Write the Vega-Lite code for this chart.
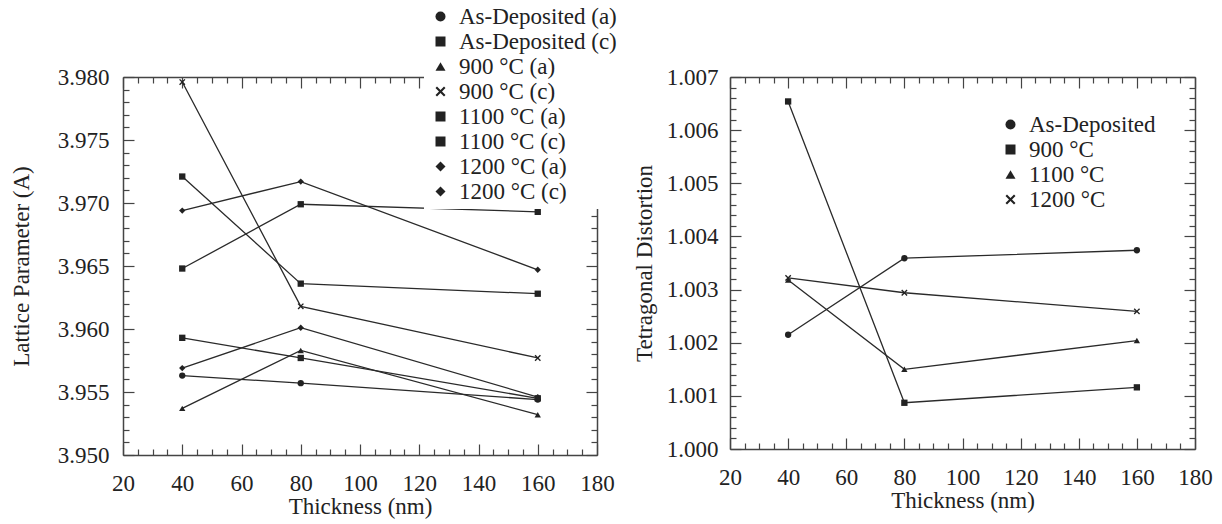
{
  "$schema": "https://vega.github.io/schema/vega-lite/v6.json",
  "background": "white",
  "padding": {"left": 10, "top": 0, "right": 5, "bottom": 5},
  "bounds": "flush",
  "spacing": 133,
  "datasets": {
    "lattice": [
      {"thickness": 40, "value": 3.9563, "series": "As-Deposited (a)"},
      {"thickness": 80, "value": 3.9557, "series": "As-Deposited (a)"},
      {"thickness": 160, "value": 3.9544, "series": "As-Deposited (a)"},
      {"thickness": 40, "value": 3.9648, "series": "As-Deposited (c)"},
      {"thickness": 80, "value": 3.9699, "series": "As-Deposited (c)"},
      {"thickness": 160, "value": 3.9693, "series": "As-Deposited (c)"},
      {"thickness": 40, "value": 3.9537, "series": "900 °C (a)"},
      {"thickness": 80, "value": 3.9583, "series": "900 °C (a)"},
      {"thickness": 160, "value": 3.9532, "series": "900 °C (a)"},
      {"thickness": 40, "value": 3.9796, "series": "900 °C (c)"},
      {"thickness": 80, "value": 3.9618, "series": "900 °C (c)"},
      {"thickness": 160, "value": 3.9577, "series": "900 °C (c)"},
      {"thickness": 40, "value": 3.9593, "series": "1100 °C (a)"},
      {"thickness": 80, "value": 3.9577, "series": "1100 °C (a)"},
      {"thickness": 160, "value": 3.9545, "series": "1100 °C (a)"},
      {"thickness": 40, "value": 3.9721, "series": "1100 °C (c)"},
      {"thickness": 80, "value": 3.9636, "series": "1100 °C (c)"},
      {"thickness": 160, "value": 3.9628, "series": "1100 °C (c)"},
      {"thickness": 40, "value": 3.9569, "series": "1200 °C (a)"},
      {"thickness": 80, "value": 3.9601, "series": "1200 °C (a)"},
      {"thickness": 160, "value": 3.9546, "series": "1200 °C (a)"},
      {"thickness": 40, "value": 3.9694, "series": "1200 °C (c)"},
      {"thickness": 80, "value": 3.9717, "series": "1200 °C (c)"},
      {"thickness": 160, "value": 3.9647, "series": "1200 °C (c)"}
    ],
    "tetra": [
      {"thickness": 40, "value": 1.00215, "series": "As-Deposited"},
      {"thickness": 80, "value": 1.00359, "series": "As-Deposited"},
      {"thickness": 160, "value": 1.00374, "series": "As-Deposited"},
      {"thickness": 40, "value": 1.00654, "series": "900 °C"},
      {"thickness": 80, "value": 1.00087, "series": "900 °C"},
      {"thickness": 160, "value": 1.00116, "series": "900 °C"},
      {"thickness": 40, "value": 1.00318, "series": "1100 °C"},
      {"thickness": 80, "value": 1.0015, "series": "1100 °C"},
      {"thickness": 160, "value": 1.00204, "series": "1100 °C"},
      {"thickness": 40, "value": 1.00322, "series": "1200 °C"},
      {"thickness": 80, "value": 1.00294, "series": "1200 °C"},
      {"thickness": 160, "value": 1.00259, "series": "1200 °C"}
    ]
  },
  "config": {
    "font": "Liberation Serif",
    "view": {"stroke": null},
    "axis": {
      "grid": false,
      "labelFont": "Liberation Serif",
      "labelFontSize": 23,
      "labelColor": "#222",
      "titleFont": "Liberation Serif",
      "titleFontSize": 23,
      "titleFontWeight": "normal",
      "titleColor": "#222",
      "domainColor": "#444",
      "domainWidth": 1.5,
      "tickColor": "#444",
      "tickWidth": 1.2,
      "labelFlush": false,
      "labelOverlap": false
    },
    "legend": {
      "labelFont": "Liberation Serif",
      "labelFontSize": 23,
      "labelColor": "#222",
      "symbolSize": 100,
      "rowPadding": 1,
      "labelOffset": 7,
      "padding": 5,
      "fillColor": "white",
      "orient": "none",
      "labelLimit": 400
    }
  },
  "resolve": {"scale": {"shape": "independent"}, "legend": {"shape": "independent"}},
  "hconcat": [
    {
      "width": 474,
      "height": 378,
      "data": {"name": "lattice"},
      "resolve": {"axis": {"x": "independent", "y": "independent"}},
      "layer": [
        {
          "mark": {"type": "line", "color": "#2a2a2a", "strokeWidth": 1.3},
          "encoding": {
            "x": {"field": "thickness", "type": "quantitative", "scale": {"domain": [20, 180], "nice": false, "zero": false},
              "axis": {"orient": "bottom", "values": [20, 40, 60, 80, 100, 120, 140, 160, 180], "tickSize": -11, "labelPadding": 28, "title": "Thickness (nm)", "titlePadding": 0}},
            "y": {"field": "value", "type": "quantitative", "scale": {"domain": [3.95, 3.98], "nice": false, "zero": false},
              "axis": {"orient": "left", "values": [3.95, 3.955, 3.96, 3.965, 3.97, 3.975, 3.98], "format": ".3f", "tickSize": -11, "labelPadding": 25, "title": "Lattice Parameter (A)", "titlePadding": 24}},
            "detail": {"field": "series"}
          }
        },
        {
          "mark": {"type": "point", "filled": true, "size": 40, "opacity": 1, "color": "#222"},
          "encoding": {
            "x": {"field": "thickness", "type": "quantitative", "scale": {"domain": [20, 180], "nice": false, "zero": false},
              "axis": {"orient": "top", "values": [20, 40, 60, 80, 100, 120, 140, 160, 180], "tickSize": -11, "labels": false, "title": null}},
            "y": {"field": "value", "type": "quantitative", "scale": {"domain": [3.95, 3.98], "nice": false, "zero": false},
              "axis": {"orient": "right", "values": [3.95, 3.955, 3.96, 3.965, 3.97, 3.975, 3.98], "tickSize": -11, "labels": false, "title": null}},
            "shape": {"field": "series", "type": "nominal",
              "scale": {"domain": ["As-Deposited (a)", "As-Deposited (c)", "900 °C (a)", "900 °C (c)", "1100 °C (a)", "1100 °C (c)", "1200 °C (a)", "1200 °C (c)"],
                        "range": ["circle", "square", "triangle-up", "M-1,-0.7L-0.7,-1L0,-0.3L0.7,-1L1,-0.7L0.3,0L1,0.7L0.7,1L0,0.3L-0.7,1L-1,0.7L-0.3,0Z", "square", "square", "diamond", "diamond"]},
              "legend": {"title": null, "legendX": 301, "legendY": -77}}
          }
        },
        {
          "mark": {"type": "point", "opacity": 0},
          "encoding": {
            "x": {"field": "thickness", "type": "quantitative", "scale": {"domain": [20, 180], "nice": false, "zero": false},
              "axis": {"orient": "bottom", "values": [25, 30, 35, 45, 50, 55, 65, 70, 75, 85, 90, 95, 105, 110, 115, 125, 130, 135, 145, 150, 155, 165, 170, 175], "tickSize": -6, "labels": false, "domain": false, "title": null}},
            "y": {"field": "value", "type": "quantitative", "scale": {"domain": [3.95, 3.98], "nice": false, "zero": false},
              "axis": {"orient": "left", "values": [3.951, 3.952, 3.953, 3.954, 3.956, 3.957, 3.958, 3.959, 3.961, 3.962, 3.963, 3.964, 3.966, 3.967, 3.968, 3.969, 3.971, 3.972, 3.973, 3.974, 3.976, 3.977, 3.978, 3.979], "tickSize": -6, "labels": false, "domain": false, "title": null}}
          }
        },
        {
          "mark": {"type": "point", "opacity": 0},
          "encoding": {
            "x": {"field": "thickness", "type": "quantitative", "scale": {"domain": [20, 180], "nice": false, "zero": false},
              "axis": {"orient": "top", "values": [25, 30, 35, 45, 50, 55, 65, 70, 75, 85, 90, 95, 105, 110, 115, 125, 130, 135, 145, 150, 155, 165, 170, 175], "tickSize": -6, "labels": false, "domain": false, "title": null}},
            "y": {"field": "value", "type": "quantitative", "scale": {"domain": [3.95, 3.98], "nice": false, "zero": false},
              "axis": {"orient": "right", "values": [3.951, 3.952, 3.953, 3.954, 3.956, 3.957, 3.958, 3.959, 3.961, 3.962, 3.963, 3.964, 3.966, 3.967, 3.968, 3.969, 3.971, 3.972, 3.973, 3.974, 3.976, 3.977, 3.978, 3.979], "tickSize": -6, "labels": false, "domain": false, "title": null}}
          }
        }
      ]
    },
    {
      "width": 465,
      "height": 372,
      "data": {"name": "tetra"},
      "resolve": {"axis": {"x": "independent", "y": "independent"}},
      "layer": [
        {
          "mark": {"type": "line", "color": "#2a2a2a", "strokeWidth": 1.3},
          "encoding": {
            "x": {"field": "thickness", "type": "quantitative", "scale": {"domain": [20, 180], "nice": false, "zero": false},
              "axis": {"orient": "bottom", "values": [20, 40, 60, 80, 100, 120, 140, 160, 180], "tickSize": -11, "labelPadding": 28, "title": "Thickness (nm)", "titlePadding": 0}},
            "y": {"field": "value", "type": "quantitative", "scale": {"domain": [1.0, 1.007], "nice": false, "zero": false},
              "axis": {"orient": "left", "values": [1.0, 1.001, 1.002, 1.003, 1.004, 1.005, 1.006, 1.007], "format": ".3f", "tickSize": -11, "labelPadding": 23, "title": "Tetragonal Distortion", "titlePadding": 10}},
            "detail": {"field": "series"}
          }
        },
        {
          "mark": {"type": "point", "filled": true, "size": 40, "opacity": 1, "color": "#222"},
          "encoding": {
            "x": {"field": "thickness", "type": "quantitative", "scale": {"domain": [20, 180], "nice": false, "zero": false},
              "axis": {"orient": "top", "values": [20, 40, 60, 80, 100, 120, 140, 160, 180], "tickSize": -11, "labels": false, "title": null}},
            "y": {"field": "value", "type": "quantitative", "scale": {"domain": [1.0, 1.007], "nice": false, "zero": false},
              "axis": {"orient": "right", "values": [1.0, 1.001, 1.002, 1.003, 1.004, 1.005, 1.006, 1.007], "tickSize": -11, "labels": false, "title": null}},
            "shape": {"field": "series", "type": "nominal",
              "scale": {"domain": ["As-Deposited", "900 °C", "1100 °C", "1200 °C"],
                        "range": ["circle", "square", "triangle-up", "M-1,-0.7L-0.7,-1L0,-0.3L0.7,-1L1,-0.7L0.3,0L1,0.7L0.7,1L0,0.3L-0.7,1L-1,0.7L-0.3,0Z"]},
              "legend": {"title": null, "legendX": 264, "legendY": 31}}
          }
        },
        {
          "mark": {"type": "point", "opacity": 0},
          "encoding": {
            "x": {"field": "thickness", "type": "quantitative", "scale": {"domain": [20, 180], "nice": false, "zero": false},
              "axis": {"orient": "bottom", "values": [25, 30, 35, 45, 50, 55, 65, 70, 75, 85, 90, 95, 105, 110, 115, 125, 130, 135, 145, 150, 155, 165, 170, 175], "tickSize": -6, "labels": false, "domain": false, "title": null}},
            "y": {"field": "value", "type": "quantitative", "scale": {"domain": [1.0, 1.007], "nice": false, "zero": false},
              "axis": {"orient": "left", "values": [1.0002, 1.0004, 1.0006, 1.0008, 1.0012, 1.0014, 1.0016, 1.0018, 1.0022, 1.0024, 1.0026, 1.0028, 1.0032, 1.0034, 1.0036, 1.0038, 1.0042, 1.0044, 1.0046, 1.0048, 1.0052, 1.0054, 1.0056, 1.0058, 1.0062, 1.0064, 1.0066, 1.0068], "tickSize": -6, "labels": false, "domain": false, "title": null}}
          }
        },
        {
          "mark": {"type": "point", "opacity": 0},
          "encoding": {
            "x": {"field": "thickness", "type": "quantitative", "scale": {"domain": [20, 180], "nice": false, "zero": false},
              "axis": {"orient": "top", "values": [25, 30, 35, 45, 50, 55, 65, 70, 75, 85, 90, 95, 105, 110, 115, 125, 130, 135, 145, 150, 155, 165, 170, 175], "tickSize": -6, "labels": false, "domain": false, "title": null}},
            "y": {"field": "value", "type": "quantitative", "scale": {"domain": [1.0, 1.007], "nice": false, "zero": false},
              "axis": {"orient": "right", "values": [1.0002, 1.0004, 1.0006, 1.0008, 1.0012, 1.0014, 1.0016, 1.0018, 1.0022, 1.0024, 1.0026, 1.0028, 1.0032, 1.0034, 1.0036, 1.0038, 1.0042, 1.0044, 1.0046, 1.0048, 1.0052, 1.0054, 1.0056, 1.0058, 1.0062, 1.0064, 1.0066, 1.0068], "tickSize": -6, "labels": false, "domain": false, "title": null}}
          }
        }
      ]
    }
  ]
}
